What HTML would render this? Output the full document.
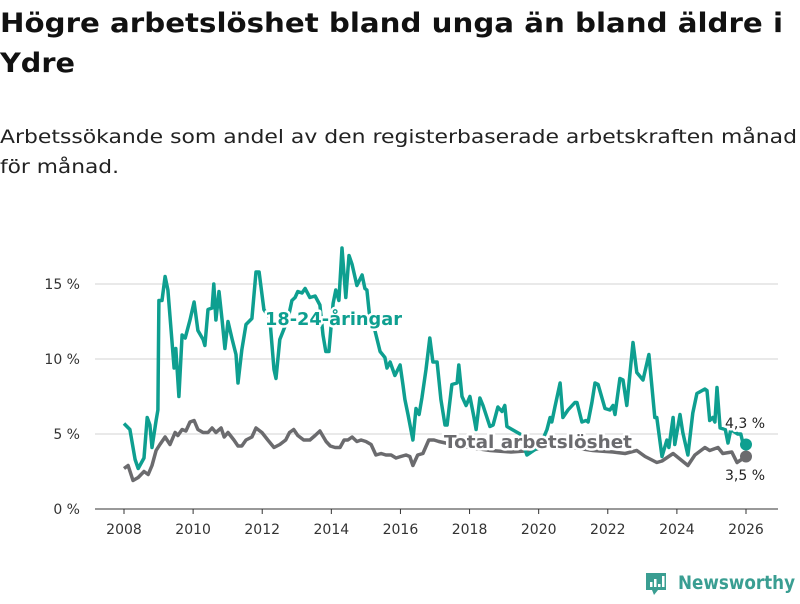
<!DOCTYPE html>
<html><head><meta charset="utf-8"><style>
body{margin:0;background:#fff;width:800px;height:600px;overflow:hidden;font-family:"DejaVu Sans","Liberation Sans",sans-serif}
</style></head><body>
<svg id="chart" width="800" height="600" xmlns="http://www.w3.org/2000/svg" font-family="DejaVu Sans, Liberation Sans, sans-serif">
<text x="0" y="32" font-size="27" font-weight="bold" fill="#111" textLength="783" lengthAdjust="spacingAndGlyphs">Högre arbetslöshet bland unga än bland äldre i</text>
<text x="0" y="72" font-size="27" font-weight="bold" fill="#111" textLength="75" lengthAdjust="spacingAndGlyphs">Ydre</text>
<text x="0" y="143" font-size="19" fill="#222" textLength="797" lengthAdjust="spacingAndGlyphs">Arbetssökande som andel av den registerbaserade arbetskraften månad</text>
<text x="0" y="173" font-size="19" fill="#222" textLength="119" lengthAdjust="spacingAndGlyphs">för månad.</text>
<g id="grid"></g><g id="axes"></g><g id="series"></g><g id="labels"></g>
<g>
<path d="M646 573 h20 v17 h-8 l-4 5 l-2 -5 h-6 z" fill="#3a9e92"/>
<rect x="650" y="582" width="2.5" height="5" fill="#fff"/><rect x="654" y="579" width="2.5" height="8" fill="#fff"/><rect x="658" y="584" width="2.5" height="3" fill="#fff"/><rect x="662" y="576" width="2.5" height="11" fill="#fff"/>
<text x="678" y="589" font-size="19" font-weight="bold" fill="#3a9e92" textLength="117" lengthAdjust="spacingAndGlyphs">Newsworthy</text>
</g>
</svg>
<script>
const yTicks=[0,5,10,15];
const yTickLabels=["0 %","5 %","10 %","15 %"];
const xTicks=[2008,2010,2012,2014,2016,2018,2020,2022,2024,2026];
const youthDates=[2008.00,2008.17,2008.32,2008.41,2008.58,2008.67,2008.75,2008.81,2008.93,2008.98,2009.01,2009.10,2009.19,2009.27,2009.45,2009.50,2009.59,2009.68,2009.77,2009.91,2010.03,2010.14,2010.29,2010.34,2010.43,2010.55,2010.60,2010.66,2010.75,2010.84,2010.92,2011.01,2011.13,2011.24,2011.30,2011.41,2011.53,2011.70,2011.82,2011.91,2012.05,2012.22,2012.34,2012.40,2012.51,2012.75,2012.86,2012.95,2013.03,2013.15,2013.24,2013.38,2013.53,2013.67,2013.76,2013.84,2013.93,2014.05,2014.13,2014.22,2014.31,2014.42,2014.51,2014.60,2014.74,2014.89,2014.97,2015.03,2015.12,2015.26,2015.41,2015.55,2015.61,2015.70,2015.84,2015.99,2016.07,2016.13,2016.22,2016.36,2016.45,2016.54,2016.62,2016.74,2016.85,2016.94,2017.06,2017.17,2017.29,2017.35,2017.49,2017.64,2017.69,2017.78,2017.90,2018.01,2018.13,2018.19,2018.30,2018.39,2018.59,2018.68,2018.82,2018.94,2019.02,2019.08,2019.23,2019.46,2019.66,2020.04,2020.24,2020.33,2020.38,2020.47,2020.62,2020.70,2020.85,2021.05,2021.11,2021.25,2021.37,2021.43,2021.54,2021.63,2021.72,2021.92,2022.06,2022.15,2022.21,2022.35,2022.44,2022.55,2022.73,2022.84,2023.02,2023.19,2023.36,2023.42,2023.57,2023.71,2023.77,2023.89,2023.94,2024.09,2024.17,2024.32,2024.46,2024.58,2024.81,2024.87,2024.95,2025.04,2025.10,2025.16,2025.25,2025.40,2025.48,2025.56,2025.76,2025.85,2025.91,2026.00];
const youthValues=[5.7,5.3,3.3,2.7,3.4,6.1,5.6,4.1,5.9,6.6,13.9,13.9,15.5,14.6,9.4,10.7,7.5,11.6,11.4,12.6,13.8,11.9,11.3,10.9,13.3,13.4,15.0,12.6,14.5,12.6,10.7,12.5,11.3,10.3,8.4,10.6,12.3,12.7,15.8,15.8,13.3,12.7,9.3,8.7,11.3,12.7,13.9,14.1,14.5,14.4,14.7,14.1,14.2,13.6,11.6,10.5,10.5,13.7,14.6,13.9,17.4,14.1,16.9,16.3,14.9,15.6,14.7,14.6,12.6,11.9,10.5,10.1,9.4,9.8,8.9,9.6,8.3,7.3,6.3,4.6,6.7,6.3,7.4,9.3,11.4,9.8,9.8,7.3,5.6,5.6,8.3,8.4,9.6,7.5,6.9,7.5,6.1,5.3,7.4,6.9,5.5,5.6,6.8,6.5,6.9,5.5,5.3,5.0,3.6,4.2,5.3,6.1,5.8,6.8,8.4,6.1,6.6,7.1,7.1,5.8,5.9,5.8,7.1,8.4,8.3,6.7,6.6,6.9,6.3,8.7,8.6,6.9,11.1,9.1,8.6,10.3,6.1,6.1,3.5,4.6,4.1,6.1,4.3,6.3,5.1,3.6,6.4,7.7,8.0,7.9,5.9,6.1,5.8,8.1,5.4,5.3,4.4,5.3,5.0,5.0,4.4,4.3];
const totalDates=[2008.00,2008.12,2008.26,2008.41,2008.58,2008.70,2008.81,2008.93,2009.04,2009.19,2009.33,2009.48,2009.56,2009.68,2009.79,2009.91,2010.03,2010.14,2010.29,2010.43,2010.55,2010.66,2010.81,2010.90,2011.01,2011.18,2011.30,2011.41,2011.53,2011.70,2011.82,2011.99,2012.16,2012.34,2012.51,2012.68,2012.79,2012.91,2013.03,2013.20,2013.38,2013.53,2013.67,2013.85,2013.97,2014.11,2014.25,2014.37,2014.48,2014.60,2014.74,2014.86,2015.00,2015.15,2015.29,2015.44,2015.58,2015.73,2015.87,2016.01,2016.16,2016.27,2016.36,2016.50,2016.65,2016.82,2016.97,2017.11,2017.50,2018.00,2018.60,2019.20,2019.80,2020.40,2020.99,2021.57,2022.15,2022.50,2022.84,2023.08,2023.42,2023.57,2023.89,2024.32,2024.52,2024.81,2024.95,2025.19,2025.33,2025.59,2025.74,2026.00];
const totalValues=[2.7,2.9,1.9,2.1,2.5,2.3,2.9,3.9,4.3,4.8,4.3,5.1,4.9,5.3,5.2,5.8,5.9,5.3,5.1,5.1,5.4,5.1,5.4,4.8,5.1,4.6,4.2,4.2,4.6,4.8,5.4,5.1,4.6,4.1,4.3,4.6,5.1,5.3,4.9,4.6,4.6,4.9,5.2,4.5,4.2,4.1,4.1,4.6,4.6,4.8,4.5,4.6,4.5,4.3,3.6,3.7,3.6,3.6,3.4,3.5,3.6,3.5,2.9,3.6,3.7,4.6,4.6,4.5,4.3,4.1,3.9,3.8,3.9,4.3,4.1,3.9,3.8,3.7,3.9,3.5,3.1,3.2,3.7,2.9,3.6,4.1,3.9,4.1,3.7,3.8,3.1,3.5];
const NS="http://www.w3.org/2000/svg";
const X0=124,X1=746,Y0=509,PPU=15;
const xs=d=>X0+(d-2008)*(X1-X0)/18;
const ys=v=>Y0-v*PPU;
function mk(tag,attrs,parent,txt){const e=document.createElementNS(NS,tag);for(const k in attrs)e.setAttribute(k,attrs[k]);if(txt!=null)e.textContent=txt;document.getElementById(parent).appendChild(e);return e;}
yTicks.forEach((t,i)=>{
  if(t>0){const g=mk('line',{x1:95,x2:778,y1:ys(t),y2:ys(t),stroke:'#dcdcdc','stroke-width':1.2},'grid');
  
  }
  const l=mk('text',{x:80,y:ys(t)+5,'text-anchor':'end','font-size':14,fill:'#333'},'axes',yTickLabels[i]);
  
  
});
const ax=mk('line',{x1:95,x2:778,y1:Y0,y2:Y0,stroke:'#333','stroke-width':1},'axes');


xTicks.forEach(t=>{
  const tk=mk('line',{x1:xs(t),x2:xs(t),y1:Y0,y2:Y0+5,stroke:'#333'},'axes');
  
  
  const l=mk('text',{x:xs(t),y:Y0+25,'text-anchor':'middle','font-size':14,fill:'#333'},'axes',String(t));
  
  
});
function path(d,v){return d.map((x,i)=>(i?'L':'M')+xs(x).toFixed(1)+' '+ys(v[i]).toFixed(1)).join(' ');}
const pt=mk('path',{d:path(totalDates,totalValues),fill:'none',stroke:'#6b6b6e','stroke-width':3.5,'stroke-linejoin':'round'},'series');


const py=mk('path',{d:path(youthDates,youthValues),fill:'none',stroke:'#0e9f90','stroke-width':3.5,'stroke-linejoin':'round'},'series');


const dy=mk('circle',{cx:xs(youthDates[youthDates.length-1]),cy:ys(youthValues[youthValues.length-1]),r:6,fill:'#0e9f90'},'series');


const dt=mk('circle',{cx:xs(totalDates[totalDates.length-1]),cy:ys(totalValues[totalValues.length-1]),r:6,fill:'#6b6b6e'},'series');


const halo={stroke:'#fff','stroke-width':5,'paint-order':'stroke','stroke-linejoin':'round'};
const l1=mk('text',Object.assign({x:265,y:325,'font-size':18,'font-weight':'bold',fill:'#0e9f90',textLength:137,lengthAdjust:'spacingAndGlyphs'},halo),'labels','18-24-åringar');


const l2=mk('text',Object.assign({x:444,y:448,'font-size':18,'font-weight':'bold',fill:'#6b6b6e',textLength:188,lengthAdjust:'spacingAndGlyphs'},halo),'labels','Total arbetslöshet');


const l3=mk('text',Object.assign({x:725,y:428,'font-size':14,fill:'#222'},halo),'labels','4,3 %');


const l4=mk('text',Object.assign({x:725,y:480,'font-size':14,fill:'#222'},halo),'labels','3,5 %');


</script>
</body></html>
